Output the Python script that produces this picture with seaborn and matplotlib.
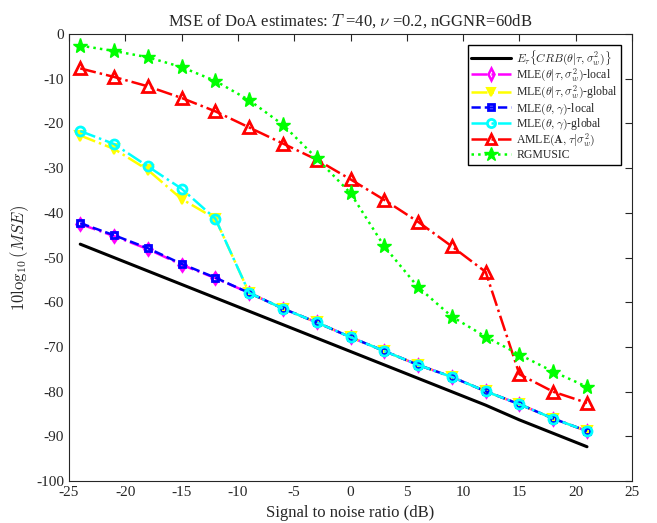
import numpy as np
import pandas as pd
import matplotlib
matplotlib.use("Agg")
import matplotlib.pyplot as plt
import seaborn as sns

snr = [-24, -21, -18, -15, -12, -9, -6, -3, 0, 3, 6, 9, 12, 15, 18, 21]
crb = [-47.0, -50.0, -53.0, -56.0, -59.0, -62.0, -65.0, -68.0, -71.0, -74.0, -77.0, -80.0, -83.0, -86.3, -89.3, -92.3]
mle_tau_local = [-42.5, -45.2, -48.1, -51.6, -54.6, -57.9, -61.4, -64.5, -67.8, -70.9, -74.0, -76.7, -79.9, -82.8, -86.0, -88.8]
mle_tau_global = [-22.7, -25.7, -30.4, -36.9, -41.3, -57.9, -61.4, -64.5, -67.8, -70.9, -74.0, -76.7, -79.9, -82.8, -86.0, -88.8]
mle_gam_local = [-42.3, -45.0, -47.9, -51.4, -54.5, -57.9, -61.4, -64.5, -67.8, -70.9, -74.0, -76.7, -79.9, -82.8, -86.0, -88.8]
mle_gam_global = [-21.7, -24.6, -29.6, -34.6, -41.3, -57.9, -61.4, -64.5, -67.8, -70.9, -74.0, -76.7, -79.9, -82.8, -86.0, -88.8]
amle = [-7.7, -9.6, -11.7, -14.3, -17.3, -20.9, -24.5, -28.1, -32.5, -37.1, -42.0, -47.5, -53.2, -76.1, -80.0, -82.5]
rgmusic = [-2.6, -3.8, -5.2, -7.4, -10.5, -14.8, -20.3, -27.8, -35.6, -47.5, -56.6, -63.2, -67.7, -71.7, -75.5, -78.9]

labels = [
    r"$E_\tau\{CRB(\theta|\tau,\sigma_w^2)\}$",
    r"MLE$(\theta|\tau,\sigma_w^2)$-local",
    r"MLE$(\theta|\tau,\sigma_w^2)$-global",
    r"MLE$(\theta,\gamma)$-local",
    r"MLE$(\theta,\gamma)$-global",
    r"AMLE$(\mathbf{A},\tau|\sigma_w^2)$",
    "RGMUSIC",
]
xticks = [-25, -20, -15, -10, -5, 0, 5, 10, 15, 20, 25]
yticks = [0, -10, -20, -30, -40, -50, -60, -70, -80, -90, -100]

sns.set_style("white")
plt.rcParams['font.family'] = ['Liberation Serif', 'DejaVu Serif']
plt.rcParams['mathtext.fontset'] = 'cm'
plt.rcParams['xtick.direction'] = 'in'
plt.rcParams['ytick.direction'] = 'in'
plt.rcParams['axes.unicode_minus'] = False

fig = plt.figure(figsize=(6.57, 5.23), dpi=100)
ax = fig.add_axes([0.105, 0.080, 0.857, 0.855])

series = [crb, mle_tau_local, mle_tau_global, mle_gam_local, mle_gam_global, amle, rgmusic]
styles = [
    dict(color='black', linestyle='-', marker=None, lw=2.2),
    dict(color='magenta', linestyle='-.', marker='d', mfc='none', ms=6.5, mew=1.8, lw=1.8),
    dict(color='yellow', linestyle='-.', marker='v', mfc='yellow', ms=7, mew=1.5, lw=1.8),
    dict(color='blue', linestyle='--', marker='s', mfc='none', ms=5, mew=2.0, lw=1.8),
    dict(color='cyan', linestyle='-.', marker='o', mfc='none', ms=6.5, mew=2.0, lw=1.8),
    dict(color='red', linestyle='-.', marker='^', mfc='none', ms=8, mew=2.0, lw=1.8),
    dict(color='#00ff00', linestyle=':', marker='*', mfc='#00ff00', ms=11, mew=1.0, lw=1.8),
]

for vals, lab, st in zip(series, labels, styles):
    df = pd.DataFrame({'snr': snr, 'mse': vals})
    kw = dict(color=st['color'], linestyle=st['linestyle'], lw=st['lw'])
    if st['marker'] is not None:
        kw.update(marker=st['marker'], markerfacecolor=st['mfc'],
                  markeredgecolor=st['color'], markersize=st['ms'], markeredgewidth=st['mew'])
    sns.lineplot(data=df, x='snr', y='mse', ax=ax, label=lab, **kw)

ax.set_xlim(-25, 25)
ax.set_ylim(-100, 0)
ax.set_xticks(xticks)
ax.set_yticks(yticks)
ax.tick_params(top=True, right=True, labelsize=11, length=5, width=0.8, color='#262626')
for s in ax.spines.values():
    s.set_color('#262626')
    s.set_linewidth(0.8)
ax.set_xlabel("Signal to noise ratio (dB)", fontsize=12)
ax.set_ylabel(r"$10\log_{10}(MSE)$", fontsize=12)
ax.set_title(r"MSE of DoA estimates: $T$ =40, $\nu$ =0.2, nGGNR=60dB", fontsize=12)

leg = ax.legend(loc='upper right', fontsize=8.5, frameon=True, fancybox=False,
                edgecolor='black', framealpha=1, handlelength=3.4, borderaxespad=0.9,
                labelspacing=0.0, borderpad=0.3, handletextpad=0.4, markerscale=0.9)
leg.get_frame().set_linewidth(1.0)

fig.savefig("out.png", dpi=100)
